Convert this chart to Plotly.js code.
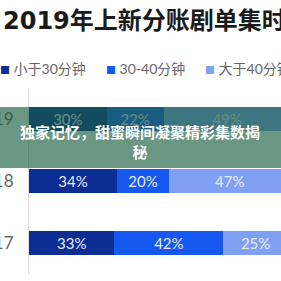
<!DOCTYPE html>
<html>
<head>
<meta charset="utf-8">
<script src="https://cdn.plot.ly/plotly-3.0.1.min.js"></script>
<style>
html,body{margin:0;padding:0;background:#fff;overflow:hidden;width:281px;height:281px;}
#wrap{position:relative;width:281px;height:281px;overflow:hidden;}
#chart{position:absolute;left:-16px;top:0;width:340px;height:281px;}
</style>
</head>
<body>
<div id="wrap"><div id="chart"></div></div>
<script>
// ---- data ----
const years = ['2017', '2018', '2019'];
const seriesNames = ['小于30分钟', '30-40分钟', '大于40分钟'];
const lessThan30 = [33, 34, 30];
const from30to40 = [42, 20, 22];
const moreThan40 = [25, 47, 49];
const seriesColors = ['#0b2d94', '#1759f0', '#7fa0f3'];
const chartTitle = '2019年上新分账剧单集时长分布';
const overlayText = '独家记忆，甜蜜瞬间凝聚精彩集数揭<br>秘';

// ---- layout constants ----
const W = 340, H = 281, ML = 45, MR = 36, MT = 88, MB = 7;
const plotW = W - ML - MR, plotH = H - MT - MB;
const px2x = (px) => (px - ML) / plotW;        // container px -> paper x
const py2y = (py) => (H - MB - py) / plotH;    // container px -> paper y

const values = [lessThan30, from30to40, moreThan40];
const traces = values.map((v, i) => ({
  type: 'bar',
  orientation: 'h',
  name: seriesNames[i],
  y: years,
  x: v,
  marker: {color: seriesColors[i], line: {width: 0}},
  text: v.map(d => d + '%'),
  textposition: 'inside',
  insidetextanchor: 'middle',
  textangle: 0,
  constraintext: 'none',
  textfont: {family: 'Lato, "Noto Sans CJK SC", sans-serif', size: 15, color: '#e4ebff'},
  hoverinfo: 'skip',
  showlegend: false
}));

// legend built from series names/colors
const legendStarts = [14, 120, 219];
const legendAnn = seriesNames.map((n, i) => ({
  xref: 'paper', yref: 'paper',
  x: px2x(legendStarts[i]), y: py2y(68),
  xanchor: 'left', yanchor: 'middle',
  showarrow: false,
  text: '<span style="color:' + seriesColors[i] + ';font-size:10px">■</span> ' + n,
  font: {family: 'Lato, "Noto Sans CJK SC", sans-serif', size: 14, color: '#666666'}
}));

const layout = {
  width: W, height: H,
  margin: {l: ML, r: MR, t: MT, b: MB, pad: 0},
  paper_bgcolor: '#ffffff',
  plot_bgcolor: '#ffffff',
  barmode: 'stack',
  bargap: 0.6,
  showlegend: false,
  title: {
    text: chartTitle,
    xref: 'container', yref: 'container',
    x: 19 / W, xanchor: 'left',
    y: 1 - 21 / H, yanchor: 'middle',
    font: {family: '"DejaVu Sans", "Noto Sans CJK SC", sans-serif', size: 24, color: '#1a1a1a', weight: 'bold'}
  },
  xaxis: {range: [0, 100], visible: false, fixedrange: true},
  yaxis: {
    type: 'category',
    categoryorder: 'array',
    categoryarray: years,
    showline: true, linecolor: '#dcdcdc', linewidth: 1,
    showgrid: false, zeroline: false,
    ticks: '',
    ticklabelstandoff: 11,
    tickfont: {family: 'Lato, "DejaVu Sans", sans-serif', size: 17, color: '#666666'},
    fixedrange: true
  },
  shapes: [{
    type: 'rect', xref: 'paper', yref: 'paper',
    x0: -1, x1: 2, y0: py2y(168), y1: py2y(107),
    fillcolor: 'rgba(26,94,66,0.65)', line: {width: 0}, layer: 'above'
  }],
  annotations: legendAnn.concat([{
    xref: 'paper', yref: 'paper',
    x: px2x(156), y: py2y(141.5),
    xanchor: 'center', yanchor: 'middle',
    showarrow: false,
    align: 'center',
    text: overlayText,
    font: {family: '"Noto Sans CJK SC", sans-serif', size: 15, color: '#ffffff', weight: 'bold'}
  }])
};

Plotly.newPlot('chart', traces, layout, {displayModeBar: false, staticPlot: true});
</script>
</body>
</html>
